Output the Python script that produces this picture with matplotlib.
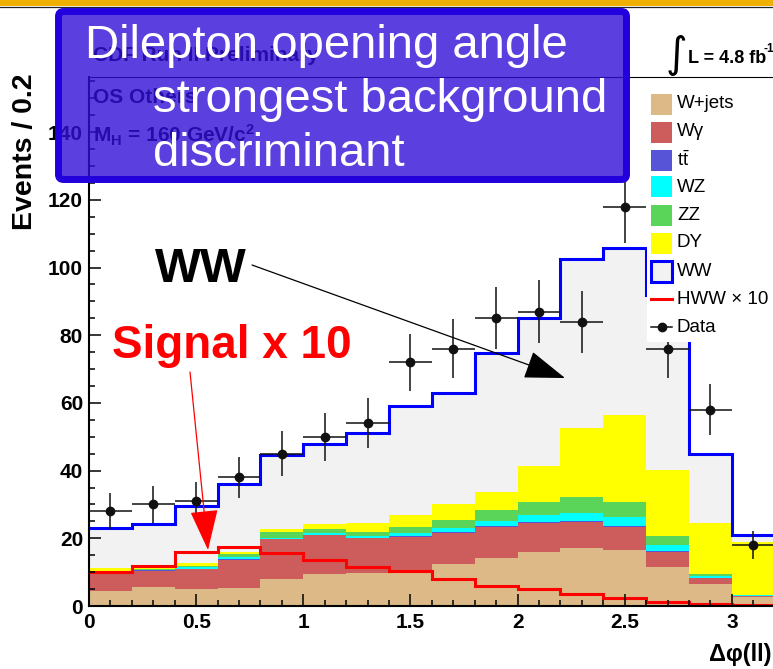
import numpy as np
import matplotlib.pyplot as plt
from matplotlib.patches import Rectangle, FancyBboxPatch
from matplotlib.lines import Line2D
import matplotlib.ticker as plticker

plt.rcParams['font.family'] = ['Liberation Sans', 'DejaVu Sans']
plt.rcParams['mathtext.fontset'] = 'custom'
plt.rcParams['mathtext.rm'] = 'Liberation Sans'
plt.rcParams['mathtext.bf'] = 'Liberation Sans:bold'
plt.rcParams['mathtext.it'] = 'Liberation Sans:italic'

W, H = 773, 669

# delta phi(ll) bins, width 0.2
edges = np.round(np.arange(0, 3.21, 0.2), 1)
centers = edges[:-1] + 0.1

wjets = [4.5, 5.5, 5.1, 5.4, 8.1, 9.4, 9.7, 9.8, 12.4, 14.1, 15.9, 17.0, 16.4, 11.4, 6.4, 2.8]
wgamma = [5.3, 4.9, 5.7, 8.2, 11.6, 11.5, 10.3, 10.5, 9.1, 9.3, 8.5, 7.9, 7.0, 4.6, 1.8, 0.2]
ttbar = [0.1, 0.1, 0.1, 0.2, 0.2, 0.2, 0.2, 0.3, 0.3, 0.3, 0.3, 0.3, 0.3, 0.3, 0.2, 0.1]
wz = [0.2, 0.2, 0.5, 0.8, 0.3, 0.5, 0.5, 0.9, 1.3, 1.5, 2.2, 2.4, 2.5, 1.7, 0.6, 0.05]
zz = [0.3, 0.3, 0.4, 0.7, 1.6, 1.2, 1.3, 1.8, 2.3, 3.2, 3.7, 4.5, 4.5, 2.8, 0.6, 0.1]
dy = [0.7, 0.4, 0.9, 0.7, 0.9, 1.4, 2.5, 3.5, 4.6, 5.3, 10.8, 20.4, 25.7, 19.4, 14.8, 15.8]
ww = [12.0, 12.7, 16.9, 20.0, 21.8, 23.6, 26.6, 32.3, 33.0, 41.1, 43.8, 49.9, 49.3, 51.8, 20.5, 2.0]
hww10 = [10.0, 11.8, 15.9, 17.5, 15.8, 13.6, 11.5, 10.4, 7.9, 5.9, 4.9, 3.5, 2.3, 1.3, 0.5, 0.2]
data = [28, 30, 31, 38, 45, 50, 54, 72, 76, 85, 87, 84, 118, 76, 58, 18]

labels = ['W+jets', 'Wγ', r'$\mathrm{t\bar{t}}$', 'WZ', 'ZZ', 'DY', 'WW']
colors = ['#DDB987', '#CD5C5C', '#5854D8', '#00FFFF', '#5AD55A', '#FFFF00', '#F2F2F2']
xticklabels = ['0', '0.5', '1', '1.5', '2', '2.5', '3']
yticklabels = ['0', '20', '40', '60', '80', '100', '120', '140']


def fx(x):
    return x / W


def fy(y):
    return 1 - y / H


fig = plt.figure(figsize=(W / 100, H / 100), dpi=100)
ax = fig.add_axes([fx(89), fy(606), fx(773) - fx(89), fy(77) - fy(606)])

# stacked backgrounds
base = np.zeros(len(wjets))
for vals, col in zip([wjets, wgamma, ttbar, wz, zz, dy, ww], colors):
    top = base + np.array(vals)
    ax.stairs(top, edges, baseline=base, fill=True, color=col, lw=0)
    base = top
ax.stairs(base, edges, baseline=None, color='#0000FF', lw=2.2)
ax.stairs(hww10, edges, baseline=None, color='#FF0000', lw=2.2)
ax.errorbar(centers, data, yerr=np.sqrt(data), xerr=0.1, fmt='o', color='#111111',
            ms=6, elinewidth=1.1, capsize=0, zorder=4)

ax.set_xlim(0, (773 - 89) / 214.3)
ax.set_ylim(0, 529 / 3.385)
ax.set_xticks(np.arange(0, 3.01, 0.5))
ax.set_xticklabels(xticklabels, fontweight='bold')
ax.set_yticks(np.arange(0, 141, 20))
ax.set_yticklabels(yticklabels, fontweight='bold')
ax.xaxis.set_minor_locator(plticker.MultipleLocator(0.1))
ax.yaxis.set_minor_locator(plticker.MultipleLocator(5))
ax.tick_params(which='both', direction='in', width=1.1, labelsize=15)
ax.tick_params(which='major', length=8.6)
ax.tick_params(which='minor', length=4.3)
ax.tick_params(axis='x', pad=5)
ax.tick_params(axis='y', pad=4.3)
ax.spines['right'].set_visible(False)
ax.spines['left'].set_linewidth(1.5)
ax.spines['bottom'].set_linewidth(1.5)
ax.spines['top'].set_linewidth(0.8)

fig.text(fx(25), fy(152), 'Events / 0.2', rotation=90, ha='center', va='center',
         fontsize=20.5, fontweight='bold')
fig.text(fx(771), fy(654), 'Δφ(ll)', ha='right', va='center', fontsize=17, fontweight='bold')

# header texts
fig.text(fx(93), fy(61), 'CDF Run II Preliminary', fontsize=15, fontweight='bold', va='baseline')
fig.text(fx(93), fy(103), 'OS Others', fontsize=15, fontweight='bold', va='baseline')
fig.text(fx(93), fy(143), r'M$_{\mathbf{H}}$ = 160 GeV/c$^{\mathbf{2}}$', fontsize=15,
         fontweight='bold', va='baseline')
fig.text(fx(666), fy(55), '∫', family='DejaVu Sans', fontsize=30, va='center', ha='left')
fig.text(fx(688), fy(63), 'L = 4.8 fb', fontsize=13, fontweight='bold', va='baseline')
fig.text(fx(763), fy(52), '-1', fontsize=8.5, fontweight='bold', va='baseline')

# legend
fig.add_artist(Rectangle((fx(647), fy(342)), fx(773) - fx(647), fy(88) - fy(342),
                         transform=fig.transFigure, facecolor='white', edgecolor='none', zorder=5))
rows = [104, 132, 160, 187, 215, 243, 272, 299, 327]
for y, lab, col in zip(rows, labels, colors):
    ec = '#0000FF' if lab == 'WW' else 'none'
    fig.add_artist(Rectangle((fx(651), fy(y + 10.5)), fx(21), 21 / H, transform=fig.transFigure,
                             facecolor=col, edgecolor=ec, lw=2.2, zorder=6))
    fig.text(fx(677), fy(y), lab, fontsize=13.5, va='center', zorder=6)
fig.add_artist(Line2D([fx(651), fx(672)], [fy(299), fy(299)], transform=fig.transFigure,
                      color='#FF0000', lw=2.2, zorder=6))
fig.text(fx(677), fy(299), 'HWW × 10', fontsize=13.5, va='center', zorder=6)
fig.add_artist(Line2D([fx(651), fx(672)], [fy(327), fy(327)], transform=fig.transFigure,
                      color='#111111', lw=1.1, zorder=6))
fig.add_artist(Line2D([fx(661.5)], [fy(327)], transform=fig.transFigure,
                      color='#111111', marker='o', ms=6, zorder=6))
fig.text(fx(677), fy(327), 'Data', fontsize=13.5, va='center', zorder=6)

# annotations
fig.text(fx(155), fy(282), 'WW', fontsize=35, fontweight='bold', va='baseline', zorder=7)
ax.annotate('', xy=(565, H - 378), xytext=(252, H - 265), xycoords='figure pixels',
            textcoords='figure pixels', annotation_clip=False, zorder=7,
            arrowprops=dict(arrowstyle='-|>,head_length=1.3,head_width=0.45', mutation_scale=20,
                            color='black', lw=0.9, shrinkA=0, shrinkB=0))
fig.text(fx(112), fy(358), 'Signal x 10', fontsize=33, fontweight='bold', color='#FF0000',
         va='baseline', zorder=7)
ax.annotate('', xy=(208, H - 550), xytext=(190, H - 372), xycoords='figure pixels',
            textcoords='figure pixels', annotation_clip=False, zorder=7,
            arrowprops=dict(arrowstyle='-|>,head_length=1.3,head_width=0.45', mutation_scale=20,
                            color='#FF0000', lw=0.9, shrinkA=0, shrinkB=0))

# slide banner and overlay box
fig.add_artist(Rectangle((0, fy(6)), 1, 6 / H, transform=fig.transFigure,
                         facecolor='#F0B000', edgecolor='none', zorder=8))
fig.add_artist(Line2D([0, 1], [fy(6.5), fy(6.5)], transform=fig.transFigure,
                      color='#222222', lw=0.9, zorder=8))
box = FancyBboxPatch((58.5 / 100, (H - 179.5) / 100), 568 / 100, 168 / 100,
                     boxstyle='round,pad=0,rounding_size=0.05', transform=fig.dpi_scale_trans,
                     facecolor=(50 / 255, 16 / 255, 216 / 255, 0.8), edgecolor='#2200DD',
                     lw=5, zorder=10)
fig.add_artist(box)
fig.text(fx(85), fy(58), 'Dilepton opening angle', fontsize=34, color='white',
         va='baseline', zorder=11)
fig.text(fx(153), fy(112), 'strongest background', fontsize=34, color='white',
         va='baseline', zorder=11)
fig.text(fx(153), fy(166), 'discriminant', fontsize=34, color='white',
         va='baseline', zorder=11)

fig.savefig('out.png', dpi=100)
